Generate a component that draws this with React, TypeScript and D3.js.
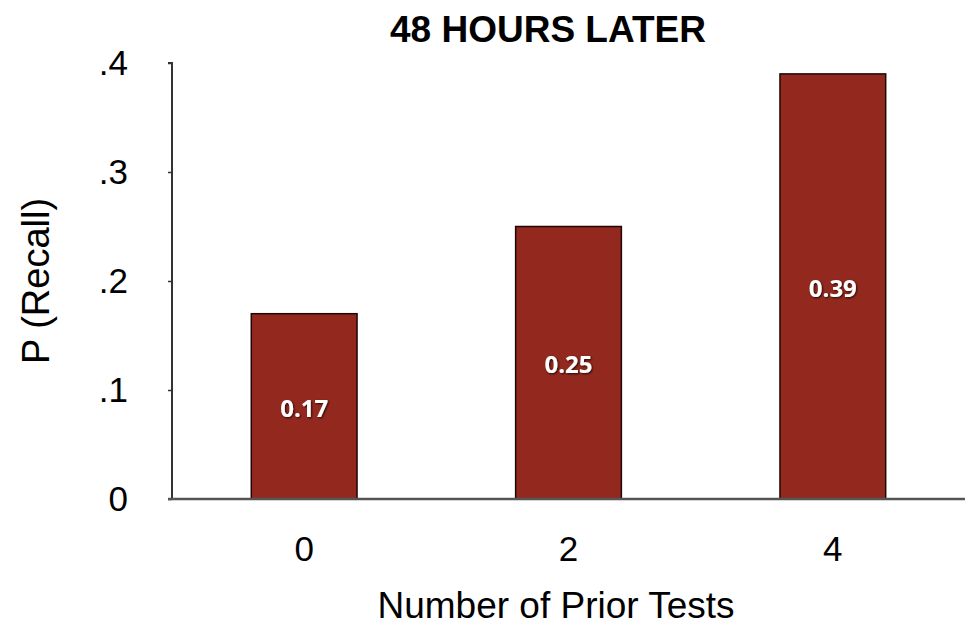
import React, { useEffect, useRef } from 'react';
import * as d3 from 'd3';

// prior tests and recall probability at 48 hours
const tests = ['0', '2', '4'];
const recall = [0.17, 0.25, 0.39];
const yTicks = [0, 0.1, 0.2, 0.3, 0.4];
const yTickLabels = ['0', '.1', '.2', '.3', '.4'];

const App = () => {
  const ref = useRef<SVGSVGElement | null>(null);

  useEffect(() => {
    const width = 969;
    const height = 627;
    const margin = { top: 63, right: 4, bottom: 128, left: 172 };
    const font = '"Liberation Sans", Arial, sans-serif';

    const svg = d3.select(ref.current);
    svg.selectAll('*').remove();

    const x = d3
      .scaleBand()
      .domain(tests)
      .range([margin.left, width - margin.right])
      .paddingInner(0.6)
      .paddingOuter(0.3);
    const y = d3.scaleLinear().domain([0, 0.4]).range([height - margin.bottom, margin.top]);

    const defs = svg.append('defs');
    const f = defs.append('filter').attr('id', 'shadow').attr('x', '-20%').attr('y', '-40%').attr('width', '140%').attr('height', '180%');
    f.append('feDropShadow').attr('dx', 1).attr('dy', 1).attr('stdDeviation', 1.2).attr('flood-color', '#000').attr('flood-opacity', 0.8);

    // bars
    svg
      .selectAll('.bar')
      .data(recall)
      .enter()
      .append('rect')
      .attr('class', 'bar')
      .attr('x', (d, i) => x(tests[i]) as number)
      .attr('width', x.bandwidth())
      .attr('y', (d) => y(d))
      .attr('height', (d) => y(0) - y(d))
      .attr('fill', '#93291e')
      .attr('stroke', '#1e0704')
      .attr('stroke-width', 1.5);

    // value labels
    svg
      .selectAll('.val')
      .data(recall)
      .enter()
      .append('text')
      .attr('class', 'val')
      .attr('x', (d, i) => (x(tests[i]) as number) + x.bandwidth() / 2)
      .attr('y', (d) => (y(d) + y(0)) / 2 + 4)
      .attr('text-anchor', 'middle')
      .attr('dominant-baseline', 'middle')
      .attr('fill', '#fff')
      .attr('filter', 'url(#shadow)')
      .style('font-family', '"Open Sans", sans-serif')
      .style('font-weight', 'bold')
      .style('font-size', '24px')
      .text((d) => d.toFixed(2));

    // y axis
    const yAxis = svg
      .append('g')
      .attr('transform', `translate(${margin.left},0)`)
      .call(
        d3
          .axisLeft(y)
          .tickValues(yTicks)
          .tickSize(4)
          .tickPadding(40)
          .tickFormat((d, i) => yTickLabels[i])
      );
    yAxis.select('.domain').attr('stroke', '#333').attr('stroke-width', 2).attr('d', `M-4,${y(0.4)}H0V${y(0)}`);
    yAxis.selectAll('.tick line').attr('stroke', '#333').attr('stroke-width', 1.5);
    yAxis
      .selectAll('.tick text')
      .attr('fill', '#000')
      .style('font-family', font)
      .style('font-size', '35px');

    // x axis baseline
    svg
      .append('line')
      .attr('x1', margin.left - 4)
      .attr('x2', width - margin.right)
      .attr('y1', y(0))
      .attr('y2', y(0))
      .attr('stroke', '#555')
      .attr('stroke-width', 2.5);

    const xAxis = svg
      .append('g')
      .attr('transform', `translate(0,${y(0)})`)
      .call(d3.axisBottom(x).tickSize(0).tickPadding(37));
    xAxis.select('.domain').remove();
    xAxis
      .selectAll('.tick text')
      .attr('fill', '#000')
      .style('font-family', font)
      .style('font-size', '35px');

    // titles
    svg
      .append('text')
      .attr('x', 548)
      .attr('y', 42)
      .attr('text-anchor', 'middle')
      .style('font-family', font)
      .style('font-weight', 'bold')
      .style('font-size', '37px')
      .text('48 HOURS LATER');

    svg
      .append('text')
      .attr('x', 556)
      .attr('y', 618)
      .attr('text-anchor', 'middle')
      .style('font-family', font)
      .style('font-size', '37px')
      .text('Number of Prior Tests');

    svg
      .append('text')
      .attr('transform', `translate(49,281) rotate(-90)`)
      .attr('text-anchor', 'middle')
      .style('font-family', font)
      .style('font-size', '38px')
      .text('P (Recall)');
  }, []);

  return (
    <svg
      ref={ref}
      width={969}
      height={627}
      style={{ position: 'absolute', left: 0, top: 0, background: '#fff' }}
    />
  );
};

export default App;
